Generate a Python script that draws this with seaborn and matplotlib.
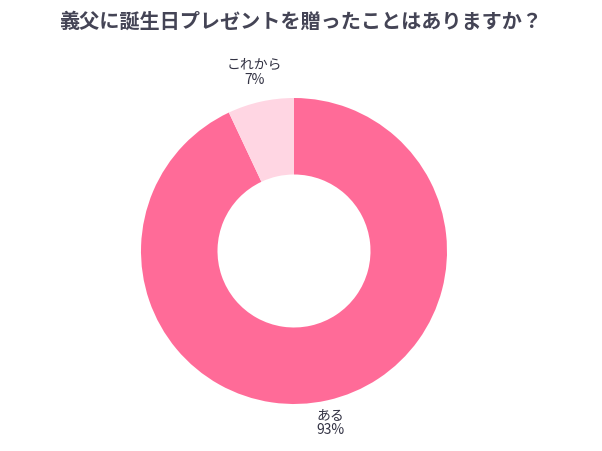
import matplotlib
matplotlib.use("Agg")
import matplotlib.pyplot as plt
import seaborn as sns

sns.set_theme(style="white")
plt.rcParams["font.family"] = ["Noto Sans CJK JP", "DejaVu Sans"]

labels = ["ある", "これから"]
values = [93, 7]
colors = ["#FF6B98", "#FFD6E3"]
title = "義父に誕生日プレゼントを贈ったことはありますか？"

fig = plt.figure(figsize=(6.02, 4.51), dpi=100)
fig.text(0.5, 0.952, title, ha="center", va="center", fontsize=14.5,
         fontweight="bold", color="#444455")

ax = fig.add_axes([(294 - 153) / 602, (451 - 251 - 153) / 451, 306 / 602, 306 / 451])
ax.pie(values, colors=colors, startangle=90, counterclock=False,
       wedgeprops=dict(width=0.5, edgecolor="none"))
ax.set_xlim(-1, 1)
ax.set_ylim(-1, 1)
ax.axis("off")

label_pos = [(0.24, -1.12), (-0.26, 1.17)]
for (x, y), lab, v in zip(label_pos, labels, values):
    ax.text(x, y, f"{lab}\n{v}%", ha="center", va="center", fontsize=10,
            color="#333344", linespacing=1.1, clip_on=False)

fig.savefig("out.png", dpi=100)
